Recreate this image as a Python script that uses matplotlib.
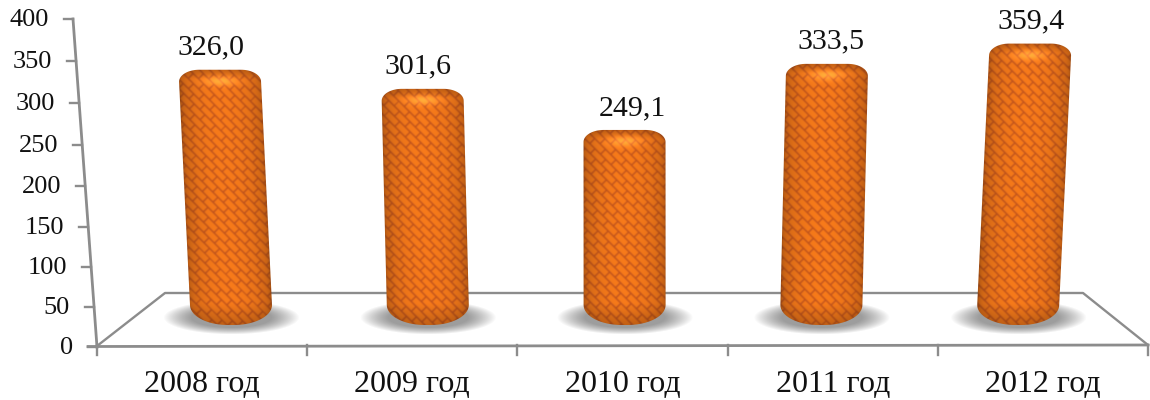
import numpy as np
import matplotlib
matplotlib.use('Agg')
import matplotlib.pyplot as plt
from matplotlib.patches import Polygon

plt.rcParams['font.family'] = ['Liberation Serif', 'DejaVu Serif']

years = ['2008 год', '2009 год', '2010 год', '2011 год', '2012 год']
values = [326.0, 301.6, 249.1, 333.5, 359.4]
value_labels = ['326,0', '301,6', '249,1', '333,5', '359,4']
y_ticks = [0, 50, 100, 150, 200, 250, 300, 350, 400]

# everything below is laid out in picture pixels
FLOOR_Y = 325
PX_PER_UNIT = 0.783
AXIS_GRAY = '#8c8c8c'
label_dx = [-9, -5, 8, 4, 1]


def axis_y(v):
    # slight perspective on the wall axis
    return 347 - 0.79 * v - 7.5e-5 * v ** 2


def axis_x(v):
    return 97 - 24 * (347 - axis_y(v)) / 328


def blur(a, n=1):
    for _ in range(n):
        a = (a + np.roll(a, 1, 0) + np.roll(a, -1, 0) + np.roll(a, 1, 1) + np.roll(a, -1, 1)) / 5
    return a


def bar_outline(base_x, top_x, top_y, half_w):
    # rounded top, deeper rounded bottom
    r_top, r_bot = 20.0, 38.0
    d_top, d_bot = 12.0, 20.0
    t = np.linspace(0, np.pi / 2, 20)
    pts = []
    for a in t:
        pts.append((top_x - half_w + r_top * (1 - np.cos(a)), top_y + d_top * (1 - np.sin(a))))
    for a in t[::-1]:
        pts.append((top_x + half_w - r_top * (1 - np.cos(a)), top_y + d_top * (1 - np.sin(a))))
    for a in t:
        pts.append((base_x + half_w - r_bot * (1 - np.cos(a)), FLOOR_Y - d_bot * (1 - np.sin(a))))
    for a in t[::-1]:
        pts.append((base_x - half_w + r_bot * (1 - np.cos(a)), FLOOR_Y - d_bot * (1 - np.sin(a))))
    return np.array(pts)


def bar_texture(base_x, top_x, top_y, half_w, x0, x1, y0, y1):
    xs = np.arange(x0, x1, 0.5)
    ys = np.arange(y0, y1, 0.5)
    X, Y = np.meshgrid(xs, ys)
    frac = (FLOOR_Y - Y) / (FLOOR_Y - top_y)
    cx = base_x + (top_x - base_x) * frac
    s = np.clip((X - cx) / half_w, -1, 1)

    # woven brick pattern running up and to the right
    u = (X + Y) / np.sqrt(2)
    v = (X - Y) / np.sqrt(2)
    row = np.floor(v / 7.0)
    uu = u + (row % 2) * 7.5
    mortar = ((v % 7.0) < 1.4) | ((uu % 15) < 1.4)
    mortar = blur(mortar.astype(float), 3)

    # cylinder shading
    shade = 0.70 + 0.32 * np.clip(1 - s ** 2, 0, 1) ** 0.45
    # caps
    d_top = Y - top_y
    d_bot = FLOOR_Y - Y
    shade *= 0.80 + 0.20 * np.clip(d_top / 9, 0, 1)
    shade *= 0.78 + 0.22 * np.clip(d_bot / 22, 0, 1)
    glow = np.exp(-((d_top - 11) / 5) ** 2) * np.exp(-(s / 0.4) ** 2)

    brick = np.array([0.95, 0.47, 0.10])
    line = np.array([0.74, 0.32, 0.11])
    rgb = brick[None, None, :] * (1 - mortar[..., None]) + line[None, None, :] * mortar[..., None]
    rgb = rgb * shade[..., None]
    rgb = rgb + glow[..., None] * np.array([0.20, 0.20, 0.12])
    return np.clip(rgb, 0, 1)


def shadow_image(cx, x0, x1, y0, y1):
    xs = np.arange(x0, x1, 1.0)
    ys = np.arange(y0, y1, 1.0)
    X, Y = np.meshgrid(xs, ys)
    # soft, fading out to the sides
    d = (np.abs(X - cx) / 68) ** 2 + (np.abs(Y - 317) / 17) ** 2
    img = np.zeros(X.shape + (4,))
    img[..., :3] = 0.55
    img[..., 3] = np.clip((1 - d) * 1.3, 0, 0.85)
    return img


fig = plt.figure(figsize=(11.5, 4), dpi=100)
ax = fig.add_axes([0, 0, 1, 1])

# floor and axes
ax.plot([97, 165, 1083, 1148], [346, 293, 293, 345], color=AXIS_GRAY, lw=1.7, zorder=1)
ax.plot([88, 1148], [346.5, 345], color=AXIS_GRAY, lw=2.0, zorder=1)
ax.plot([axis_x(y_ticks[-1]), axis_x(0)], [axis_y(y_ticks[-1]), axis_y(0)], color=AXIS_GRAY, lw=2.0, zorder=1)

for t in y_ticks:
    xt, yt = axis_x(t), axis_y(t)
    ax.plot([xt - 9, xt], [yt, yt], color=AXIS_GRAY, lw=1.7, zorder=1)
    ax.text(xt - 24, yt + 1, str(t), ha='right', va='center', fontsize=19, color='#111111')

tick_xs = np.linspace(97, 1148, len(years) + 1)
for xt in tick_xs:
    ax.plot([xt, xt], [345, 355], color=AXIS_GRAY, lw=1.7, zorder=1)
for i, name in enumerate(years):
    ax.text((tick_xs[i] + tick_xs[i + 1]) / 2, 385, name, ha='center', va='center', fontsize=23, color='#111111')

# bars
for i, val in enumerate(values):
    base_x = 231 + 196.8 * i
    h = val * PX_PER_UNIT
    top_y = FLOOR_Y - h
    top_x = base_x + (base_x - 628) * 1.08e-4 * h
    half_w = 41

    x0, x1 = int(base_x - 80), int(base_x + 80)
    ax.imshow(shadow_image(base_x, x0, x1, 295, 340), extent=[x0, x1, 340, 295], aspect='auto',
              interpolation='bilinear', zorder=2)

    outline = bar_outline(base_x, top_x, top_y, half_w)
    patch = Polygon(outline, closed=True, facecolor='none', edgecolor='none', zorder=3)
    ax.add_patch(patch)
    bx0, bx1 = int(outline[:, 0].min()) - 2, int(outline[:, 0].max()) + 2
    by0, by1 = int(top_y) - 2, FLOOR_Y + 2
    im = ax.imshow(bar_texture(base_x, top_x, top_y, half_w, bx0, bx1, by0, by1),
                   extent=[bx0, bx1, by1, by0], aspect='auto', interpolation='bilinear', zorder=3)
    im.set_clip_path(patch)

    ax.text(top_x + label_dx[i], top_y - 22, value_labels[i], ha='center', va='center', fontsize=21.5, color='#111111')

ax.set_xlim(0, 1150)
ax.set_ylim(400, 0)
ax.axis('off')

fig.savefig('out.png', dpi=100)
